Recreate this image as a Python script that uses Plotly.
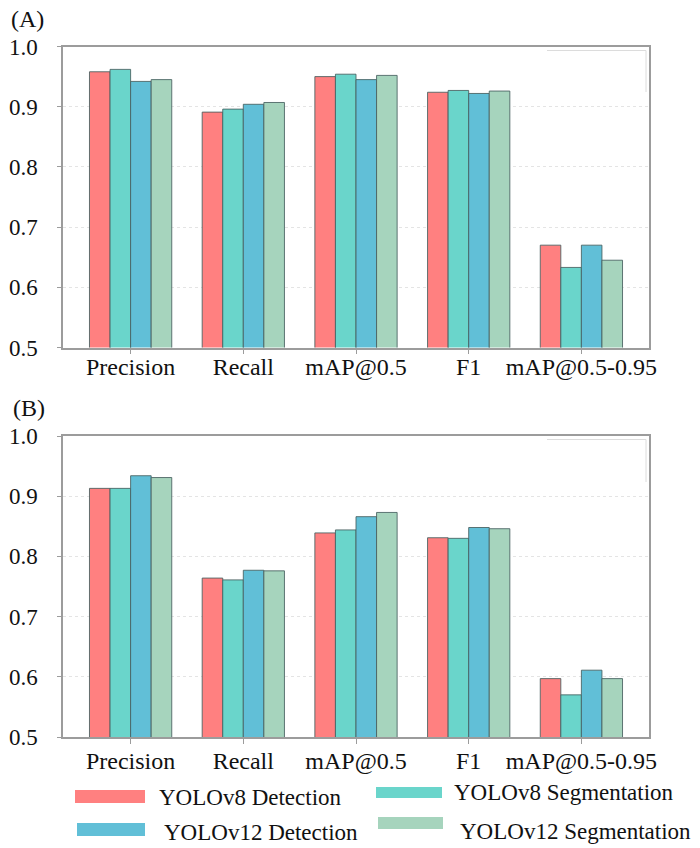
import plotly.graph_objects as go

categories = ["Precision", "Recall", "mAP@0.5", "F1", "mAP@0.5-0.95"]
series_names = ["YOLOv8 Detection", "YOLOv8 Segmentation", "YOLOv12 Detection", "YOLOv12 Segmentation"]

# Panel (A)
a_v8_det = [0.958, 0.891, 0.950, 0.924, 0.670]
a_v8_seg = [0.962, 0.896, 0.954, 0.927, 0.633]
a_v12_det = [0.942, 0.904, 0.945, 0.922, 0.670]
a_v12_seg = [0.945, 0.907, 0.952, 0.926, 0.645]

# Panel (B)
b_v8_det = [0.913, 0.764, 0.839, 0.831, 0.597]
b_v8_seg = [0.913, 0.761, 0.844, 0.830, 0.570]
b_v12_det = [0.934, 0.777, 0.866, 0.848, 0.611]
b_v12_seg = [0.931, 0.776, 0.873, 0.846, 0.597]

y_ticks = [0.5, 0.6, 0.7, 0.8, 0.9, 1.0]

colors = ["#FF8080", "#6AD5CB", "#61BFD7", "#A6D4BD"]
outline = "rgba(70,95,95,0.85)"
FONT = "Liberation Serif"

W, H = 700, 848
L, R = 63, 51
PW = W - L - R


def px_x(px):
    return (px - L) / PW


def px_y(py):
    return 1 - py / H


fig = go.Figure()
panels = [
    ([a_v8_det, a_v8_seg, a_v12_det, a_v12_seg], "x", "y"),
    ([b_v8_det, b_v8_seg, b_v12_det, b_v12_seg], "x2", "y2"),
]
for vals, xa, ya in panels:
    for name, v, c in zip(series_names, vals, colors):
        fig.add_trace(go.Bar(
            x=categories, y=v, name=name, xaxis=xa, yaxis=ya,
            marker=dict(color=c, line=dict(color=outline, width=1)),
            showlegend=False, offsetgroup=name,
        ))

axis_line = "#9c9c9c"
xcommon = dict(
    type="category", range=[-0.6, 4.6], showline=True, mirror=True,
    linecolor=axis_line, linewidth=1.5, ticks="outside", ticklen=5,
    tickcolor=axis_line, tickwidth=1, showgrid=False, zeroline=False,
    tickfont=dict(family=FONT, size=24, color="#111"),
    domain=[0, 1], automargin=False,
)
ycommon = dict(
    range=[0.5, 1.0], tickvals=y_ticks, tickformat=".1f", showline=True, mirror=True,
    linecolor=axis_line, linewidth=1.5, ticks="outside", ticklen=4,
    tickcolor=axis_line, tickwidth=1, showgrid=True, gridcolor="#e4e4e4",
    griddash="dot", gridwidth=1, zeroline=False,
    tickfont=dict(family=FONT, size=23, color="#111"), ticklabelstandoff=15,
    automargin=False,
)

fig.update_layout(
    width=W, height=H,
    margin=dict(l=L, r=R, t=0, b=0, autoexpand=False),
    paper_bgcolor="white", plot_bgcolor="white",
    barmode="group", bargap=0.27, bargroupgap=0,
    xaxis=dict(**xcommon, anchor="y", ticklabelstandoff=-8),
    yaxis=dict(**ycommon, domain=[px_y(347.5), px_y(46.5)], anchor="x"),
    xaxis2=dict(**xcommon, anchor="y2", ticklabelstandoff=-4),
    yaxis2=dict(**ycommon, domain=[px_y(737), px_y(436)], anchor="x2"),
    font=dict(family=FONT, color="#111"),
)

# panel labels
fig.add_annotation(text="(A)", x=px_x(9), y=px_y(19), xref="paper", yref="paper",
                   xanchor="left", yanchor="middle", showarrow=False,
                   font=dict(family=FONT, size=24, color="#111"))
fig.add_annotation(text="(B)", x=px_x(11), y=px_y(408), xref="paper", yref="paper",
                   xanchor="left", yanchor="middle", showarrow=False,
                   font=dict(family=FONT, size=24, color="#111"))

# faint empty boxes in the top-right of each panel
for top, bot in [(50.5, 92), (439.5, 482)]:
    fig.add_shape(type="line", xref="paper", yref="paper",
                  x0=px_x(547), x1=px_x(646), y0=px_y(top), y1=px_y(top),
                  line=dict(color="#dcdcdc", width=1))
    fig.add_shape(type="line", xref="paper", yref="paper",
                  x0=px_x(646), x1=px_x(646), y0=px_y(top), y1=px_y(bot),
                  line=dict(color="#dcdcdc", width=1))

# custom legend
legend_items = [
    (series_names[0], colors[0], (75, 145, 790, 803), (157, 797)),
    (series_names[1], colors[1], (376, 442, 787, 798), (452, 792)),
    (series_names[2], colors[2], (77, 145, 823, 836), (162, 832)),
    (series_names[3], colors[3], (378, 443, 817, 829), (458, 831)),
]
for name, c, (x0, x1, y0, y1), (tx, ty) in legend_items:
    fig.add_shape(type="rect", xref="paper", yref="paper",
                  x0=px_x(x0), x1=px_x(x1), y0=px_y(y1), y1=px_y(y0),
                  fillcolor=c, line=dict(width=0))
    fig.add_annotation(text=name, x=px_x(tx), y=px_y(ty), xref="paper", yref="paper",
                       xanchor="left", yanchor="middle", showarrow=False,
                       font=dict(family=FONT, size=23, color="#111"))

fig.write_html("out.html")
